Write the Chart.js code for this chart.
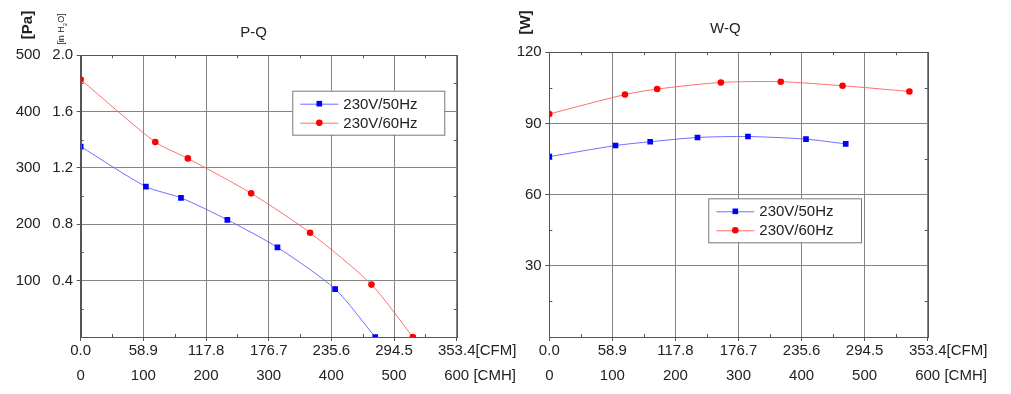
<!DOCTYPE html>
<html>
<head>
<meta charset="utf-8">
<script src="https://cdn.jsdelivr.net/npm/chart.js@4.4.1/dist/chart.umd.min.js"></script>
<style>
  body { margin: 0; background: #fff; }
  #wrap { position: relative; width: 1011px; height: 394px; }
  .box { position: absolute; top: 0; height: 394px; }
</style>
</head>
<body>
<div id="wrap">
  <div class="box" style="left:0;width:530px"><canvas id="pqChart"></canvas></div>
  <div class="box" style="left:505px;width:506px"><canvas id="wqChart"></canvas></div>
</div>
<script>
// axis ticks
const cmhTicks = [0, 100, 200, 300, 400, 500, 600];
const cfmLabels = ["0.0", "58.9", "117.8", "176.7", "235.6", "294.5", "353.4"];
const paTicks = [100, 200, 300, 400, 500];
const inH2OLabels = ["0.4", "0.8", "1.2", "1.6", "2.0"];
const wTicks = [30, 60, 90, 120];

const seriesNames = ["230V/50Hz", "230V/60Hz"];

// P-Q curves (flow in CMH)
const pq50Flow = [0, 104, 160, 234, 314, 406, 470];
const pq50Pa = [338, 267, 247, 208, 159, 85, 0];
const pq60Flow = [0, 119, 171, 272, 366, 464, 530];
const pq60Pa = [457, 346, 317, 255, 185, 93, 0];

// W-Q curves
const wq50Flow = [0, 105, 160, 235, 315, 407, 470];
const wq50W = [76, 80.7, 82.3, 84.1, 84.5, 83.4, 81.4];
const wq60Flow = [0, 120, 171, 272, 367, 465, 571];
const wq60W = [94, 102.2, 104.5, 107.3, 107.6, 105.9, 103.5];

Chart.defaults.font.family = '"Liberation Sans", Arial, sans-serif';
Chart.defaults.font.size = 15;
Chart.defaults.color = "#222";

const FONT = '"Liberation Sans", Arial, sans-serif';
const gridCol = "#858585";
const axisCol = "#555";

const toPoints = (xs, ys) => xs.map((x, i) => ({ x: x, y: ys[i] }));
const midpoints = (arr) => arr.slice(1).map((v, i) => (v + arr[i]) / 2);

function blueSet(data) {
  return {
    label: seriesNames[0], data: data,
    borderColor: "rgba(95,95,255,0.9)", borderWidth: 1,
    pointStyle: "rect", pointRadius: 4, pointBackgroundColor: "#0000ff",
    pointBorderWidth: 0, tension: 0.25, clip: 0,
  };
}
function redSet(data) {
  return {
    label: seriesNames[1], data: data,
    borderColor: "rgba(255,95,95,0.9)", borderWidth: 1,
    pointStyle: "circle", pointRadius: 3.3, pointBackgroundColor: "#ff0000",
    pointBorderWidth: 0, tension: 0.25, clip: 0,
  };
}

// titles, units, legend, minor ticks
const decor = {
  id: "decor",
  afterDraw(chart, args, o) {
    const { ctx, chartArea: a, scales } = chart;
    ctx.save();
    // minor ticks (inward)
    ctx.strokeStyle = axisCol;
    ctx.lineWidth = 1;
    ctx.beginPath();
    midpoints(cmhTicks).forEach((v) => {
      const px = Math.round(scales.x.getPixelForValue(v)) + 0.5;
      ctx.moveTo(px, a.bottom); ctx.lineTo(px, a.bottom - 3);
      ctx.moveTo(px, a.top); ctx.lineTo(px, a.top + 3);
    });
    midpoints([0].concat(o.yTicks)).forEach((v) => {
      const py = Math.round(scales.y.getPixelForValue(v)) + 0.5;
      ctx.moveTo(a.left, py); ctx.lineTo(a.left + 3, py);
      ctx.moveTo(a.right, py); ctx.lineTo(a.right - 3, py);
    });
    ctx.stroke();
    ctx.strokeRect(Math.round(a.left) + 0.5, Math.round(a.top) + 0.5,
      Math.round(a.right) - Math.round(a.left), Math.round(a.bottom) - Math.round(a.top));

    // title
    ctx.fillStyle = "#222";
    ctx.font = "15px " + FONT;
    ctx.textAlign = "center";
    ctx.textBaseline = "middle";
    ctx.fillText(o.title, o.titleX, o.titleY);

    // unit labels after last x ticks
    const xr = scales.x.getPixelForValue(600);
    ctx.textAlign = "left";
    ctx.fillText("[CFM]", xr + ctx.measureText("353.4").width / 2, 351);
    ctx.fillText(" [CMH]", xr + ctx.measureText("600").width / 2, 375.5);

    // y axis titles
    ctx.font = "bold 15px " + FONT;
    o.yTitles.forEach((t) => {
      ctx.save();
      ctx.translate(t.x, t.y);
      ctx.rotate(-Math.PI / 2);
      ctx.textAlign = "center";
      ctx.font = t.font;
      if (t.sub) {
        const w1 = ctx.measureText(t.text[0]).width;
        ctx.font = t.subFont;
        const w2 = ctx.measureText(t.text[1]).width;
        ctx.font = t.font;
        const w3 = ctx.measureText(t.text[2]).width;
        let x0 = -(w1 + w2 + w3) / 2;
        ctx.textAlign = "left";
        ctx.fillText(t.text[0], x0, 0);
        ctx.font = t.subFont;
        ctx.fillText(t.text[1], x0 + w1, 3);
        ctx.font = t.font;
        ctx.fillText(t.text[2], x0 + w1 + w2, 0);
      } else {
        ctx.fillText(t.text, 0, 0);
      }
      ctx.restore();
    });

    // legend
    const L = o.legend;
    ctx.fillStyle = "#fff";
    ctx.fillRect(L.x, L.y, L.w, L.h);
    ctx.strokeStyle = "#777";
    ctx.strokeRect(L.x + 0.5, L.y + 0.5, L.w, L.h);
    ctx.font = "15px " + FONT;
    ctx.textAlign = "left";
    chart.data.datasets.forEach((ds, i) => {
      const ry = L.y + 13 + i * 19;
      ctx.strokeStyle = ds.borderColor;
      ctx.beginPath();
      ctx.moveTo(L.x + 8, ry + 0.5); ctx.lineTo(L.x + 46, ry + 0.5);
      ctx.stroke();
      ctx.fillStyle = ds.pointBackgroundColor;
      if (ds.pointStyle === "rect") {
        ctx.fillRect(L.x + 27 - 2.8, ry - 2.8, 5.6, 5.6);
      } else {
        ctx.beginPath();
        ctx.arc(L.x + 27, ry, 3.3, 0, Math.PI * 2);
        ctx.fill();
      }
      ctx.fillStyle = "#222";
      ctx.fillText(ds.label, L.x + 51, ry + 1);
    });
    ctx.restore();
  },
};

function xAxes() {
  return {
    x: {
      type: "linear", position: "bottom", min: 0, max: 600,
      afterBuildTicks: (s) => { s.ticks = cmhTicks.map((v) => ({ value: v })); },
      afterFit: (s) => { s.height = 24; },
      grid: { color: gridCol, tickColor: axisCol, tickLength: 4 },
      border: { color: axisCol },
      ticks: { padding: 1, maxRotation: 0, autoSkip: false, callback: (v, i) => cfmLabels[i] },
    },
    xCmh: {
      type: "linear", position: "bottom", min: 0, max: 600,
      afterBuildTicks: (s) => { s.ticks = cmhTicks.map((v) => ({ value: v })); },
      afterFit: (s) => { s.height = 33; },
      grid: { display: false, drawTicks: false },
      border: { display: false },
      ticks: { padding: 5.5, maxRotation: 0, autoSkip: false, callback: (v, i) => String(cmhTicks[i]) },
    },
  };
}

new Chart(document.getElementById("pqChart"), {
  type: "line",
  data: {
    datasets: [blueSet(toPoints(pq50Flow, pq50Pa)), redSet(toPoints(pq60Flow, pq60Pa))],
  },
  options: {
    responsive: true,
    maintainAspectRatio: false,
    animation: false,
    layout: { padding: { left: 0, top: 55.3, right: 73.3, bottom: 0 } },
    scales: Object.assign(xAxes(), {
      y: {
        position: "left", min: 0, max: 500,
        afterBuildTicks: (s) => { s.ticks = paTicks.map((v) => ({ value: v })); },
        afterFit: (s) => { s.width = 36; },
        grid: { color: gridCol, tickColor: axisCol, tickLength: 4 },
        border: { color: axisCol },
        ticks: { padding: 3.5, callback: (v, i) => inH2OLabels[i] },
      },
      yPa: {
        position: "left", min: 0, max: 500,
        afterBuildTicks: (s) => { s.ticks = paTicks.map((v) => ({ value: v })); },
        afterFit: (s) => { s.width = 44.7; },
        grid: { display: false, drawTicks: false },
        border: { display: false },
        ticks: { padding: 4, callback: (v, i) => String(paTicks[i]) },
      },
    }),
    plugins: {
      legend: { display: false },
      tooltip: { enabled: false },
      decor: {
        title: "P-Q", titleX: 253.7, titleY: 33.3,
        yTicks: paTicks,
        yTitles: [
          { text: "[Pa]", x: 28.3, y: 25, font: "bold 15px " + FONT },
          { text: ["[in H", "2", "O]"], sub: true, x: 62, y: 29, font: "9px " + FONT, subFont: "6px " + FONT },
        ],
        legend: { x: 292.3, y: 90.7, w: 152, h: 44 },
      },
    },
  },
  plugins: [decor],
});

new Chart(document.getElementById("wqChart"), {
  type: "line",
  data: {
    datasets: [blueSet(toPoints(wq50Flow, wq50W)), redSet(toPoints(wq60Flow, wq60W))],
  },
  options: {
    responsive: true,
    maintainAspectRatio: false,
    animation: false,
    layout: { padding: { left: 0, top: 52.3, right: 83.3, bottom: 0 } },
    scales: Object.assign(xAxes(), {
      y: {
        position: "left", min: 0, max: 120,
        afterBuildTicks: (s) => { s.ticks = wTicks.map((v) => ({ value: v })); },
        afterFit: (s) => { s.width = 44.3; },
        grid: { color: gridCol, tickColor: axisCol, tickLength: 4 },
        border: { color: axisCol },
        ticks: { padding: 3.6, callback: (v, i) => String(wTicks[i]) },
      },
    }),
    plugins: {
      legend: { display: false },
      tooltip: { enabled: false },
      decor: {
        title: "W-Q", titleX: 220.3, titleY: 29,
        yTicks: wTicks,
        yTitles: [{ text: "[W]", x: 21, y: 22.5, font: "bold 15px " + FONT }],
        legend: { x: 203.3, y: 198.3, w: 152.7, h: 44 },
      },
    },
  },
  plugins: [decor],
});
</script>
</body>
</html>
